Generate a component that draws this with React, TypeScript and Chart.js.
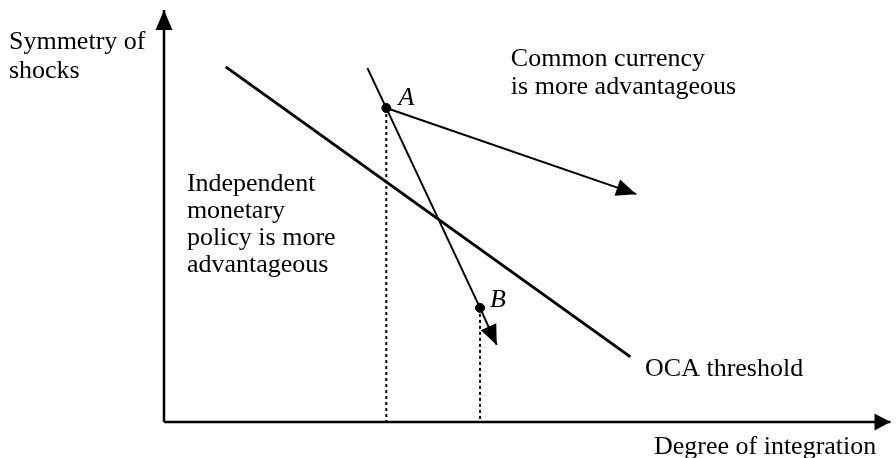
import React, { useEffect, useRef } from "react";
import { Chart, registerables } from "chart.js";

Chart.register(...registerables);

// Axis extents (arbitrary units)
const X_MAX = 10;
const Y_MAX = 10;

// OCA threshold line
const OCA_X = [0.85, 6.42];
const OCA_Y = [8.62, 1.58];

// Steep path through A and B, ending with an arrow
const PATH_X = [2.8, 3.06, 4.35, 4.58];
const PATH_Y = [8.59, 7.62, 2.77, 1.87];

// Shift arrow from A
const SHIFT_X = [3.06, 6.5];
const SHIFT_Y = [7.62, 5.53];

// Marked points
const POINT_NAMES = ["A", "B"];
const POINT_X = [3.06, 4.35];
const POINT_Y = [7.62, 2.77];

// Text annotations
const LABEL_LINES: string[][] = [
  ["Symmetry of", "shocks"],
  ["Common currency", "is more advantageous"],
  ["Independent", "monetary", "policy is more", "advantageous"],
  ["OCA threshold"],
  ["Degree of integration"],
];
const LABEL_X = [-2.134, 4.774, 0.315, 6.621, 6.744];
const LABEL_Y = [9.053, 8.641, 5.607, 1.117, -0.777];
const LABEL_LINE_HEIGHT = [28.5, 28, 27, 28, 28];
const POINT_LABEL_X = [3.228, 4.487];
const POINT_LABEL_Y = [7.694, 2.791];

const pts = (xs: number[], ys: number[]) => xs.map((x, i) => ({ x, y: ys[i] }));

const arrowPlugin = {
  id: "arrowheads",
  afterDatasetsDraw(chart: any) {
    const ctx = chart.ctx;
    chart.data.datasets.forEach((ds: any, i: number) => {
      if (!ds.arrow) return;
      const meta = chart.getDatasetMeta(i);
      const n = meta.data.length;
      if (n < 2) return;
      const p1 = meta.data[n - 2];
      const p2 = meta.data[n - 1];
      const ang = Math.atan2(p2.y - p1.y, p2.x - p1.x);
      const len = ds.arrowLength || 20;
      const hw = ds.arrowHalfWidth || 8.5;
      ctx.save();
      ctx.fillStyle = "#000";
      ctx.translate(p2.x, p2.y);
      ctx.rotate(ang);
      ctx.beginPath();
      ctx.moveTo(0, 0);
      ctx.lineTo(-len, -hw);
      ctx.lineTo(-len, hw);
      ctx.closePath();
      ctx.fill();
      ctx.restore();
    });
  },
};

const textPlugin = {
  id: "texts",
  afterDraw(chart: any) {
    const ctx = chart.ctx;
    const xs = chart.scales.x;
    const ys = chart.scales.y;
    ctx.save();
    ctx.fillStyle = "#000";
    ctx.textBaseline = "alphabetic";
    ctx.textAlign = "left";
    ctx.font = '26px "Liberation Serif", "Times New Roman", serif';
    LABEL_LINES.forEach((lines, i) => {
      const px = xs.getPixelForValue(LABEL_X[i]);
      const py = ys.getPixelForValue(LABEL_Y[i]);
      lines.forEach((t, j) => ctx.fillText(t, px, py + j * LABEL_LINE_HEIGHT[i]));
    });
    ctx.font = 'italic 26px "Liberation Serif", "Times New Roman", serif';
    POINT_NAMES.forEach((t, i) => {
      ctx.fillText(t, xs.getPixelForValue(POINT_LABEL_X[i]), ys.getPixelForValue(POINT_LABEL_Y[i]));
    });
    ctx.restore();
  },
};

export default function App() {
  const ref = useRef<HTMLCanvasElement | null>(null);
  useEffect(() => {
    if (!ref.current) return;
    const line = (data: any, extra: any = {}) => ({
      data,
      showLine: true,
      borderColor: "#000",
      backgroundColor: "#000",
      pointRadius: 0,
      borderWidth: 2,
      clip: false,
      ...extra,
    });
    const chart = new Chart(ref.current, {
      type: "scatter",
      data: {
        datasets: [
          line(pts([0, 0], [0, Y_MAX]), { arrow: true, borderWidth: 2.5, arrowLength: 20, arrowHalfWidth: 8.5 }),
          line(pts([0, X_MAX], [0, 0]), { arrow: true, borderWidth: 2.5, arrowLength: 16, arrowHalfWidth: 8.5 }),
          line(pts([POINT_X[0], POINT_X[0]], [POINT_Y[0], 0]), { borderDash: [3, 3] }),
          line(pts([POINT_X[1], POINT_X[1]], [POINT_Y[1], 0]), { borderDash: [3, 3] }),
          line(pts(OCA_X, OCA_Y), { borderWidth: 3 }),
          line(pts(PATH_X, PATH_Y), { arrow: true, arrowLength: 20, arrowHalfWidth: 8.5 }),
          line(pts(SHIFT_X, SHIFT_Y), { arrow: true, arrowLength: 20, arrowHalfWidth: 8.5 }),
          {
            data: pts(POINT_X, POINT_Y),
            showLine: false,
            pointRadius: 4.5,
            pointBackgroundColor: "#000",
            pointBorderColor: "#000",
            clip: false,
          },
        ] as any,
      },
      options: {
        responsive: false,
        animation: false,
        devicePixelRatio: 1,
        layout: { padding: { left: 164, right: 1, top: 10, bottom: 36 } },
        scales: {
          x: { type: "linear", min: 0, max: X_MAX, display: false },
          y: { type: "linear", min: 0, max: Y_MAX, display: false },
        },
        plugins: { legend: { display: false }, tooltip: { enabled: false } },
        events: [],
      } as any,
      plugins: [arrowPlugin, textPlugin],
    });
    return () => chart.destroy();
  }, []);
  return (
    <div style={{ position: "fixed", left: 0, top: 0, width: 896, height: 458, background: "#fff" }}>
      <canvas ref={ref} width={896} height={458} style={{ width: 896, height: 458 }} />
    </div>
  );
}
